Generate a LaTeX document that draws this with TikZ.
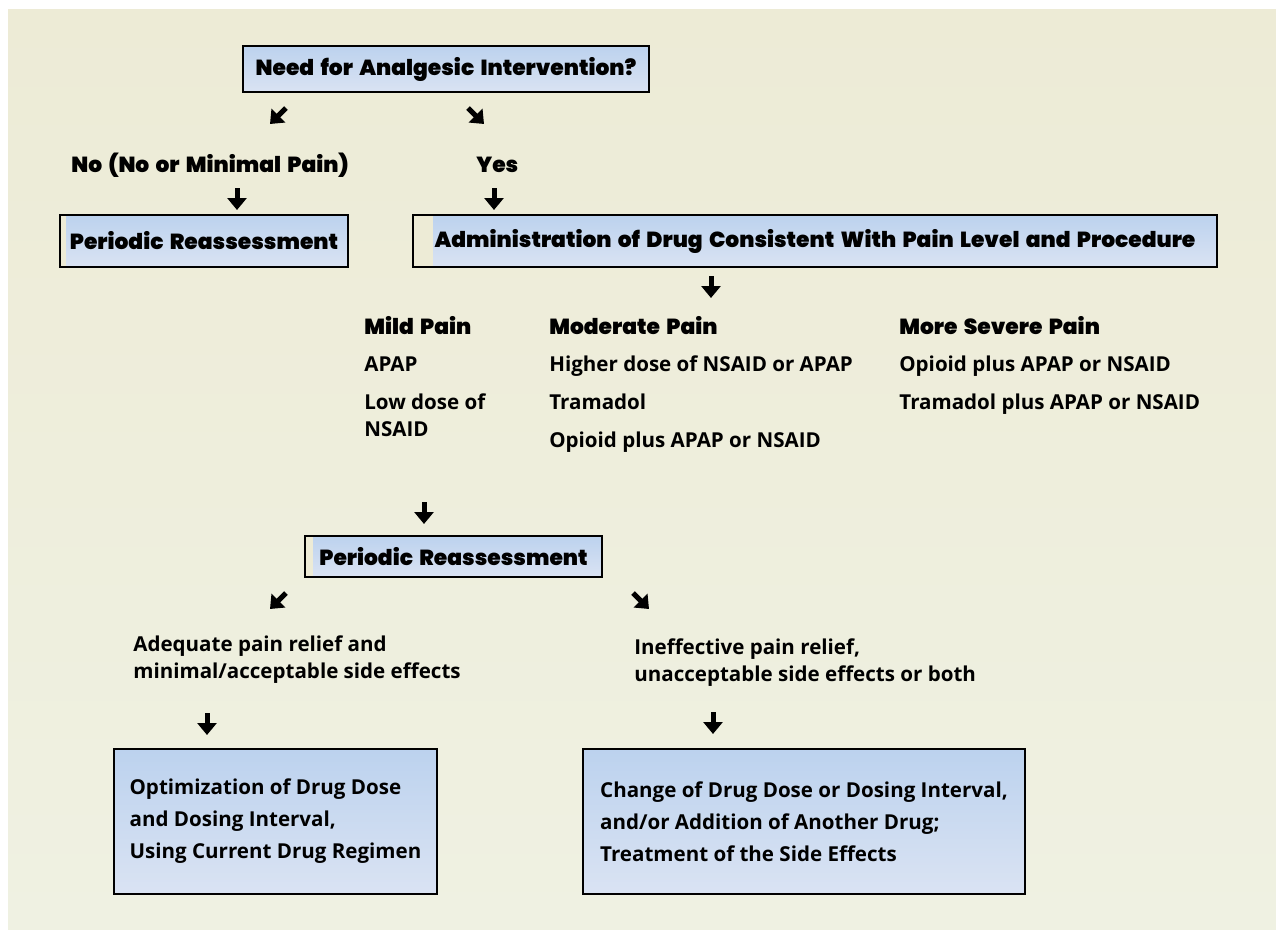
\documentclass[tikz,border=0pt]{standalone}
\usepackage{fontspec}
\setmainfont{Open Sans}
\newfontfamily\heavyfont{Poppins Black}[WordSpace=1.7]
\usepackage{tikz}
\usetikzlibrary{arrows.meta, positioning}
\definecolor{panel}{HTML}{EDEBD6}
\definecolor{panellow}{HTML}{EFF1E2}
\definecolor{boxtop}{HTML}{BCD2EE}
\definecolor{boxbot}{HTML}{DAE3F3}
\newcommand{\headsize}{\fontsize{12.4}{15.4}\selectfont}
\tikzstyle{box} = [rectangle, draw=black, line width=0.055cm, top color=boxtop, bottom color=boxbot, inner sep=0pt, align=left]
\tikzstyle{heading} = [inner sep=0pt, font=\headsize\heavyfont]
\tikzstyle{entry} = [inner sep=0pt, align=left, font=\fontsize{11.7}{15.4}\selectfont\bfseries]
\tikzstyle{glyph} = [line width=0.1cm, -{Triangle[width=0.38cm, length=0.24cm]}]
\tikzset{leftgap/.style={path picture={\fill[panel] (path picture bounding box.north west) rectangle ([xshift=#1]path picture bounding box.south west);}}}

\begin{document}
\begin{tikzpicture}[x=0.02cm, y=-0.02cm]
	\useasboundingbox (0,0) rectangle (1276,930);
	\fill[top color=panel, bottom color=panellow] (8,9) rectangle (1276,930);
	% question
	\node (Need) at (446,69) [box, heading, minimum width=8.12cm, minimum height=0.92cm] {Need for Analgesic Intervention?};
	\node (No) at (210,165) [heading] {No (No or Minimal Pain)};
	\node (Yes) at (476,165) [heading, anchor=west] {Yes};
	\node (ReassessTop) at (204,241) [box, heading, leftgap=0.12cm, minimum width=5.76cm, minimum height=1.04cm] {Periodic Reassessment};
	\node (Admin) at (815,241) [box, heading, leftgap=0.4cm, minimum width=16.08cm, minimum height=1.04cm] {Administration of Drug Consistent With Pain Level and Procedure};
	% pain levels
	\node (Mild) at (364,316) [entry, anchor=north west] {{\heavyfont\mdseries\headsize Mild Pain}\\[0.21cm]APAP\\[0.21cm]Low dose of\\NSAID};
	\node (Moderate) at (549,316) [entry, anchor=north west] {{\heavyfont\mdseries\headsize Moderate Pain}\\[0.21cm]Higher dose of NSAID or APAP\\[0.21cm]Tramadol\\[0.21cm]Opioid plus APAP or NSAID};
	\node (Severe) at (899,316) [entry, anchor=north west] {{\heavyfont\mdseries\headsize More Severe Pain}\\[0.21cm]Opioid plus APAP or NSAID\\[0.21cm]Tramadol plus APAP or NSAID};
	\node (ReassessMid) at (453.5,556.5) [box, heading, leftgap=0.16cm, minimum width=5.94cm, minimum height=0.82cm] {Periodic Reassessment};
	% outcomes
	\node (Adequate) at (133,659.5) [entry, anchor=west] {Adequate pain relief and\\minimal/acceptable side effects};
	\node (Ineffective) at (634,662.5) [entry, anchor=west] {Ineffective pain relief,\\unacceptable side effects or both};
	\node (Optimize) at (275.5,821.5) [box, entry, minimum width=6.46cm, minimum height=2.9cm, font=\fontsize{11.7}{18.2}\selectfont\bfseries] {Optimization of Drug Dose\\and Dosing Interval,\\Using Current Drug Regimen};
	\node (Change) at (804,821.5) [box, entry, minimum width=8.84cm, minimum height=2.9cm, font=\fontsize{11.7}{18.2}\selectfont\bfseries] {Change of Drug Dose or Dosing Interval,\\and/or Addition of Another Drug;\\Treatment of the Side Effects};
	% arrow glyphs
	\coordinate (NeedNoA) at (286,108);  \coordinate (NeedNoB) at (270,124);
	\coordinate (NeedYesA) at (468,108); \coordinate (NeedYesB) at (484,124);
	\coordinate (NoA) at (237,188);      \coordinate (NoB) at (237,210);
	\coordinate (YesA) at (494,188);     \coordinate (YesB) at (494,210);
	\coordinate (AdminA) at (711,276);   \coordinate (AdminB) at (711,298);
	\coordinate (LevelA) at (424,502);   \coordinate (LevelB) at (424,524);
	\coordinate (MidLeftA) at (286,593); \coordinate (MidLeftB) at (270,609);
	\coordinate (MidRightA) at (633,593);\coordinate (MidRightB) at (649,609);
	\coordinate (AdeqA) at (207,713);    \coordinate (AdeqB) at (207,735);
	\coordinate (IneffA) at (713,712);   \coordinate (IneffB) at (713,734);
	\draw [glyph] (NeedNoA) -- (NeedNoB);
	\draw [glyph] (NeedYesA) -- (NeedYesB);
	\draw [glyph] (NoA) -- (NoB);
	\draw [glyph] (YesA) -- (YesB);
	\draw [glyph] (AdminA) -- (AdminB);
	\draw [glyph] (LevelA) -- (LevelB);
	\draw [glyph] (MidLeftA) -- (MidLeftB);
	\draw [glyph] (MidRightA) -- (MidRightB);
	\draw [glyph] (AdeqA) -- (AdeqB);
	\draw [glyph] (IneffA) -- (IneffB);
\end{tikzpicture}
\end{document}
